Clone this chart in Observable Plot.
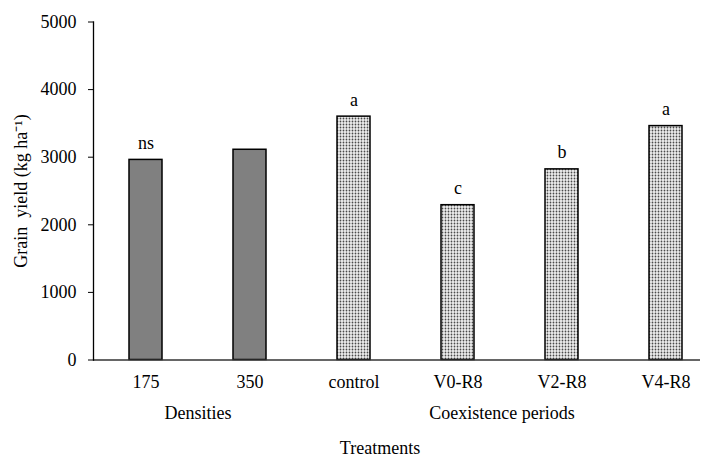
<!DOCTYPE html>
<html>
<head>
<meta charset="utf-8">
<script src="https://cdn.jsdelivr.net/npm/d3@7"></script>
<script src="https://cdn.jsdelivr.net/npm/@observablehq/plot@0.6"></script>
<style>
  html, body { margin: 0; padding: 0; background: #fff; }
  #chart svg { display: block; }
</style>
</head>
<body>
<div id="chart"></div>
<script>
const treatments = ["175", "350", "control", "V0-R8", "V2-R8", "V4-R8"];
const yields = [2960, 3110, 3600, 2290, 2820, 3460];
const letters = ["ns", "", "a", "c", "b", "a"];
const groups = ["Densities", "Densities", "Coexistence periods", "Coexistence periods", "Coexistence periods", "Coexistence periods"];
const yTicks = [0, 1000, 2000, 3000, 4000, 5000];

const data = treatments.map((t, i) => ({treatment: t, yield: yields[i], letter: letters[i], group: groups[i]}));

const W = 707, H = 458;
const mL = 93, mR = 7, mT = 21.5, mB = 98.5;
const r0 = 93.5, r1 = 718.5;
const step = (r1 - r0) / treatments.length;
const font = "'Liberation Serif', 'Times New Roman', Times, serif";

const plot = Plot.plot({
  width: W,
  height: H,
  marginLeft: mL,
  marginRight: mR,
  marginTop: mT,
  marginBottom: mB,
  style: {fontFamily: font, fontSize: "18px", color: "#000", background: "#fff", overflow: "visible"},
  x: {type: "band", domain: treatments, range: [r0, r1], paddingInner: 0.68, paddingOuter: 0.34, axis: null},
  y: {domain: [0, 5000], axis: null},
  marks: [
    Plot.barY(data.filter(d => d.group === "Densities"), {x: "treatment", y: "yield", fill: "#808080", stroke: "#000", strokeWidth: 1.5}),
    Plot.barY(data.filter(d => d.group !== "Densities"), {x: "treatment", y: "yield", fill: "url(#dots)", stroke: "#000", strokeWidth: 1.5}),
    Plot.text(data, {x: "treatment", y: "yield", text: "letter", lineAnchor: "bottom", dy: -11, fontSize: 18}),
    Plot.axisX({tickSize: 0, tickPadding: 15, fontSize: 18, label: null}),
    Plot.axisY({ticks: yTicks, tickSize: 5, tickPadding: 12, tickFormat: d => String(d), fontSize: 18, label: null}),
    Plot.text([groups[0]], {x: () => treatments[0], frameAnchor: "bottom", textAnchor: "middle", dx: step / 2, dy: 59, fontSize: 18}),
    Plot.text([groups[2]], {x: () => treatments[3], frameAnchor: "bottom", textAnchor: "middle", dx: step / 2 - 8, dy: 59, fontSize: 18}),
    Plot.text(["Treatments"], {frameAnchor: "bottom", textAnchor: "middle", dx: -17, dy: 94, fontSize: 18}),
    Plot.text(["Grain  yield (kg ha\u207B\u00B9)"], {frameAnchor: "left", textAnchor: "middle", dx: -72, rotate: -90, fontSize: 18}),
    Plot.ruleY([0], {stroke: "#333", strokeWidth: 1.5}),
    Plot.frame({anchor: "left", stroke: "#000", strokeWidth: 1.3})
  ]
});

d3.select(plot).insert("defs", ":first-child").html(
  '<pattern id="dots" width="3" height="3" patternUnits="userSpaceOnUse">' +
  '<rect width="3" height="3" fill="#efefef"></rect>' +
  '<circle cx="1.5" cy="1.5" r="0.9" fill="#4a4a4a"></circle>' +
  '</pattern>'
);

document.getElementById("chart").appendChild(plot);
</script>
</body>
</html>
